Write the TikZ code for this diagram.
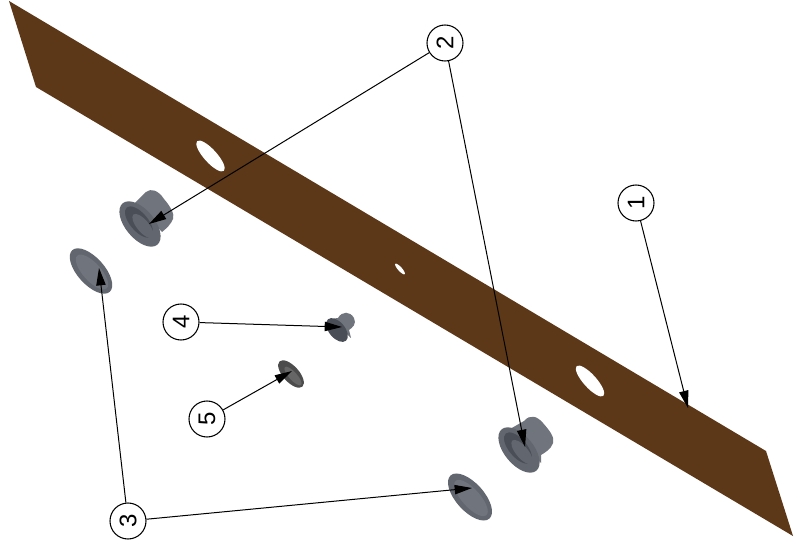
\documentclass[tikz,border=0pt]{standalone}
\usepackage{fontspec}
\setmainfont{Liberation Sans}
\usetikzlibrary{arrows.meta}
\definecolor{plate}{RGB}{92,56,24}
\definecolor{partdark}{RGB}{74,78,86}
\definecolor{partmid}{RGB}{98,102,110}
\definecolor{partlight}{RGB}{112,116,124}
\tikzset{
  x=0.75pt,y=-0.75pt,
  callout/.style={circle,draw=black,line width=0.8pt,fill=white,minimum size=27pt,inner sep=0pt,font=\fontsize{18}{18}\selectfont,rotate=90},
  leader/.style={draw=black,line width=0.75pt,-{Triangle[length=13pt,width=7pt]}},
}
\begin{document}
\begin{tikzpicture}
\useasboundingbox (0,0) rectangle (795,548);
\fill[white] (0,0) rectangle (795,548);
% plate
\fill[plate] (9,1) -- (36,87) -- (793,536) -- (766,451) -- cycle;
\fill[white,rotate around={42:(210.5,156)}] (210.5,156) ellipse[x radius=6.5,y radius=20];
\fill[white,rotate around={42:(400,269)}] (400,269) ellipse[x radius=2,y radius=7];
\fill[white,rotate around={42:(590,381)}] (590,381) ellipse[x radius=6.5,y radius=20];
% bush upper left
\fill[partlight] (135,203) -- (146,192) .. controls (151,188) and (158,190) .. (164,199) .. controls (170,206) and (175,214) .. (173,219) .. controls (171,224) and (167,228) .. (162,232) -- cycle;
\fill[partmid,rotate around={40:(140,224)}] (140,224) ellipse[x radius=14.5,y radius=27];
\fill[partdark,rotate around={40:(139,222)}] (139,222) ellipse[x radius=9,y radius=19];
\fill[partmid,rotate around={40:(143,226)}] (143,226) ellipse[x radius=6,y radius=15];
% bush lower right
\fill[partlight] (510,429) -- (524,421) .. controls (530,414) and (537,416) .. (543,423) .. controls (549,430) and (555,437) .. (553,443) .. controls (551,449) and (546,452) .. (541,455) -- (541,463) -- cycle;
\fill[partmid,rotate around={40:(519,450)}] (519,450) ellipse[x radius=14.5,y radius=27];
\fill[partdark,rotate around={40:(518,448)}] (518,448) ellipse[x radius=9,y radius=19];
\fill[partmid,rotate around={40:(522,452)}] (522,452) ellipse[x radius=6,y radius=15];
% washers
\fill[partmid,rotate around={42:(91,271)}] (91,271) ellipse[x radius=13.5,y radius=28];
\fill[partlight,rotate around={42:(92,272)}] (92,272) ellipse[x radius=9,y radius=22];
\fill[partmid,rotate around={42:(470,497)}] (470,497) ellipse[x radius=14,y radius=29];
\fill[partlight,rotate around={42:(471,498)}] (471,498) ellipse[x radius=9,y radius=23];
% small bush
\fill[partlight] (331,319) -- (338,318) .. controls (342,311) and (350,311) .. (354,318) .. controls (357,324) and (352,328) .. (349,330) -- (351,338) -- cycle;
\fill[partdark,rotate around={40:(337,330)}] (337,330) ellipse[x radius=8,y radius=14];
% small washer
\fill[black!70,rotate around={42:(291,374)}] (291,374) ellipse[x radius=8,y radius=17];
\fill[black!60,rotate around={42:(293,376)}] (293,376) ellipse[x radius=4,y radius=12];
% callouts
\node[callout] (n1) at (636,203) {1};
\node[callout] (n2) at (445,43) {2};
\node[callout] (n3) at (128,521) {3};
\node[callout] (n4) at (181,322) {4};
\node[callout] (n5) at (207,419) {5};
\coordinate (t1) at (688,408);
\coordinate (t2a) at (149,224);
\coordinate (t2b) at (525,447);
\coordinate (t3a) at (99,268);
\coordinate (t3b) at (472,488);
\coordinate (t4) at (342,327);
\coordinate (t5) at (292,371);
\draw[leader] (n1) -- (t1);
\draw[leader] (n2) -- (t2a);
\draw[leader] (n2) -- (t2b);
\draw[leader] (n3) -- (t3a);
\draw[leader] (n3) -- (t3b);
\draw[leader] (n4) -- (t4);
\draw[leader] (n5) -- (t5);
\end{tikzpicture}
\end{document}
